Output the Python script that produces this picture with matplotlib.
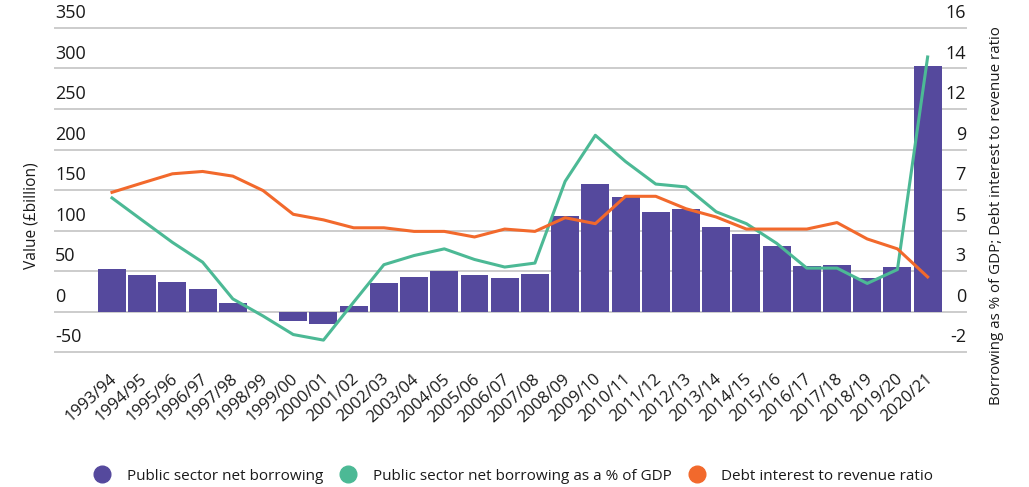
import numpy as np
import matplotlib
matplotlib.use('Agg')
import matplotlib.pyplot as plt
from matplotlib.lines import Line2D
from matplotlib.transforms import ScaledTranslation

plt.rcParams['font.family'] = ['Open Sans', 'DejaVu Sans']

# data
years = ['1993/94', '1994/95', '1995/96', '1996/97', '1997/98', '1998/99', '1999/00',
         '2000/01', '2001/02', '2002/03', '2003/04', '2004/05', '2005/06', '2006/07',
         '2007/08', '2008/09', '2009/10', '2010/11', '2011/12', '2012/13', '2013/14',
         '2014/15', '2015/16', '2016/17', '2017/18', '2018/19', '2019/20', '2020/21']
borrowing = [52, 44.7, 36.2, 27.7, 10.6, 0, -12.2, -15.4, 7, 35, 42.3, 49.6, 44.7, 41,
             46, 118, 158, 141, 123, 126.5, 104.5, 96, 81.3, 55.7, 57, 41, 54.5, 303]
borrowing_pct_gdp = [6.56, 5.32, 4.09, 2.99, 0.95, 0.0, -1.03, -1.34, 0.77, 2.85, 3.36,
                     3.73, 3.14, 2.72, 2.94, 7.48, 10.04, 8.58, 7.33, 7.17, 5.79, 5.13,
                     4.04, 2.66, 2.66, 1.81, 2.58, 14.39]
interest_ratio = [6.87, 7.39, 7.9, 8.03, 7.77, 6.97, 5.65, 5.34, 4.9, 4.9, 4.7, 4.7,
                  4.39, 4.83, 4.7, 5.46, 5.13, 6.65, 6.65, 5.96, 5.5, 4.83, 4.83, 4.83,
                  5.19, 4.28, 3.73, 2.17]
left_ticks = [-50, 0, 50, 100, 150, 200, 250, 300, 350]
right_labels = ['-2', '0', '3', '5', '7', '9', '12', '14', '16']

purple = '#55499d'
green = '#4cb995'
orange = '#f2692c'
grid = '#cccccc'
txt = '#1a1a1a'

fig = plt.figure(figsize=(10.29, 4.87), dpi=100)
ax = fig.add_axes([55/1029, 1-352/487, 911/1029, 324/487])
ax2 = ax.twinx()

x = np.arange(len(years))
ax.bar(x, borrowing, width=0.925, color=purple, zorder=2)
ax2.plot(x, borrowing_pct_gdp, color=green, lw=2.2, zorder=3)
ax2.plot(x, interest_ratio, color=orange, lw=2.2, zorder=3)

ax.set_xlim(-1.887, 28.27)
ax.set_ylim(-50, 350)
ax2.set_ylim(-2, 16)

for s in list(ax.spines.values()) + list(ax2.spines.values()):
    s.set_visible(False)

ax.set_yticks(left_ticks)
ax.set_yticklabels([str(t) for t in left_ticks])
for t in left_ticks:
    ax.axhline(t, color=grid, lw=1.4, zorder=0, clip_on=False)
ax.tick_params(axis='y', length=0, pad=0, labelsize=13, labelcolor=txt)
off = ScaledTranslation(0, 4/72, fig.dpi_scale_trans)
for lbl in ax.get_yticklabels():
    lbl.set_ha('left')
    lbl.set_va('bottom')
    lbl.set_transform(lbl.get_transform() + off)

ax2.set_yticks(np.linspace(-2, 16, 9))
ax2.set_yticklabels(right_labels)
ax2.tick_params(axis='y', length=0, pad=0, labelsize=13, labelcolor=txt)
for lbl in ax2.get_yticklabels():
    lbl.set_ha('right')
    lbl.set_va('bottom')
    lbl.set_transform(lbl.get_transform() + off)

ax.set_xticks(x)
ax.set_xticklabels(years, rotation=42, ha='right', va='center', rotation_mode='anchor')
ax.tick_params(axis='x', length=0, pad=18, labelsize=12, labelcolor=txt)
xoff = ScaledTranslation(3/100, 0, fig.dpi_scale_trans)
for lbl in ax.get_xticklabels():
    lbl.set_transform(lbl.get_transform() + xoff)

fig.text(31/1029, 1-216/487, 'Value (£billion)', rotation=90, ha='center', va='center',
         fontsize=11.2, color=txt)
fig.text(996/1029, 1-216/487, 'Borrowing as % of GDP; Debt interest to revenue ratio',
         rotation=90, ha='center', va='center', fontsize=10.9, color=txt)

handles = [Line2D([], [], ls='none', marker='o', ms=12, color=c) for c in (purple, green, orange)]
names = ['Public sector net borrowing', 'Public sector net borrowing as a % of GDP',
         'Debt interest to revenue ratio']
fig.legend(handles, names, loc='center', bbox_to_anchor=(510/1029, 1-476/487), ncol=3,
           frameon=False, fontsize=11, handletextpad=0.6, columnspacing=0.65,
           labelcolor=txt)

fig.savefig('out.png', dpi=100)
